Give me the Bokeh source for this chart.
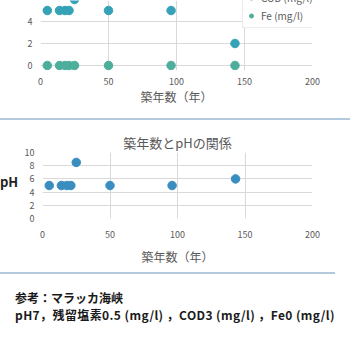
from bokeh.plotting import figure
from bokeh.models import Range1d, FixedTicker, Div
from bokeh.layouts import column, row
from bokeh.embed import file_html
from bokeh.resources import INLINE

# ---- data ----
age = [5, 14, 18, 21, 25, 50, 96, 143]
ph = [5, 5, 5, 5, 8.5, 5, 5, 6]
cod = [5, 5, 5, 5, 6.0, 5, 5, 2]
fe = [0, 0, 0, 0, 0, 0, 0, 0]
x_ticks = [0, 50, 100, 150, 200]
top_y_ticks = [0, 2, 4, 6]
ph_y_ticks = [0, 2, 4, 6, 8, 10]
title_ph = "築年数とpHの関係"
x_title = "築年数（年）"
y_title_ph = "pH"
cod_label = "COD (mg/l)"
fe_label = "Fe (mg/l)"
note_lines = ["参考：マラッカ海峡", "pH7，残留塩素0.5 (mg/l) ，COD3 (mg/l) ，Fe0 (mg/l)"]

FONT = "Noto Sans CJK JP"
GRID = "#d9d9d9"
TXT = "#595959"
COD_C = "#35A2B8"
FE_C = "#4DAE9C"
PH_C = "#3A8DBF"
BORDER = "#b3c9de"


def style(p, yticks, xstand, xlstand):
    p.xaxis.ticker = FixedTicker(ticks=x_ticks)
    p.yaxis.ticker = FixedTicker(ticks=yticks)
    for ax in (p.xaxis[0], p.yaxis[0]):
        ax.axis_line_color = None
        ax.major_tick_line_color = None
        ax.minor_tick_line_color = None
        ax.major_tick_in = 0
        ax.major_tick_out = 0
        ax.minor_tick_in = 0
        ax.minor_tick_out = 0
        ax.major_label_text_font = FONT
        ax.major_label_text_font_size = "9px"
        ax.major_label_text_color = TXT
        ax.axis_label_text_font = FONT
        ax.axis_label_text_font_style = "normal"
        ax.axis_label_text_color = TXT
        ax.axis_label_text_font_size = "12px"
    p.yaxis.major_label_standoff = 8
    p.xaxis.major_label_standoff = xstand
    p.xaxis.axis_label_standoff = xlstand
    p.xaxis.axis_label = x_title
    p.xgrid.grid_line_color = GRID
    p.ygrid.grid_line_color = GRID
    p.outline_line_color = None
    p.background_fill_color = "white"
    p.border_fill_color = "white"


# ---- top chart (cut off at top) ----
p1 = figure(width=350, height=116, x_range=Range1d(0, 200), y_range=Range1d(-0.4545, 5.909),
            output_backend="svg", toolbar_location=None,
            min_border_left=40, min_border_right=38, min_border_top=0, min_border_bottom=46)
style(p1, top_y_ticks, 7, 0)
p1.scatter(age, cod, size=8.5, color=COD_C, legend_label=cod_label)
p1.scatter(age, fe, size=8.5, color=FE_C, legend_label=fe_label)
lg = p1.legend[0]
lg.location = (202, 42)
lg.label_text_font = FONT
lg.label_text_font_size = "10px"
lg.label_text_color = TXT
lg.glyph_height = 17
lg.label_height = 17
lg.glyph_width = 10
lg.spacing = 1
lg.padding = 3
lg.margin = 0
lg.border_line_color = GRID
lg.background_fill_alpha = 1

# ---- separator ----
sep = Div(text="", width=350, height=2, margin=(2, 0, 2, 0),
          styles={"background-color": BORDER})

# ---- pH chart ----
p2 = figure(width=330, height=148, x_range=Range1d(0, 200), y_range=Range1d(0, 10),
            output_backend="svg", toolbar_location=None,
            min_border_left=22, min_border_right=38, min_border_top=30, min_border_bottom=52)
style(p2, ph_y_ticks, 12, 7)
p2.title.text = title_ph
p2.title.align = "center"
p2.title.text_font = FONT
p2.title.text_font_size = "13px"
p2.title.text_font_style = "normal"
p2.title.text_color = TXT
p2.title.standoff = 2
p2.scatter(age, ph, size=8.5, color=PH_C)

ph_div = Div(text=(f'<div style="padding-top:53px;font-family:\'{FONT}\';font-size:13px;'
                   f'font-weight:bold;color:#222;line-height:14px">{y_title_ph}</div>'),
             width=20, height=148, margin=0)

# ---- note box ----
note = Div(text=(f'<div style="border-top:2px solid {BORDER};margin-top:2px;padding:15px 0 0 15px;'
                 f'font-family:\'{FONT}\';font-size:12px;line-height:17px;font-weight:bold;color:#1a1a1a;'
                 f'white-space:nowrap">'
                 f'<div style="height:17px">{note_lines[0]}</div>'
                 f'<div style="height:17px;letter-spacing:0.4px">{note_lines[1]}</div></div>'),
           width=350, height=68, margin=0)

layout = column(p1, sep, row(ph_div, p2, spacing=0), note, spacing=0)
open("out.html", "w").write(file_html(layout, INLINE))
